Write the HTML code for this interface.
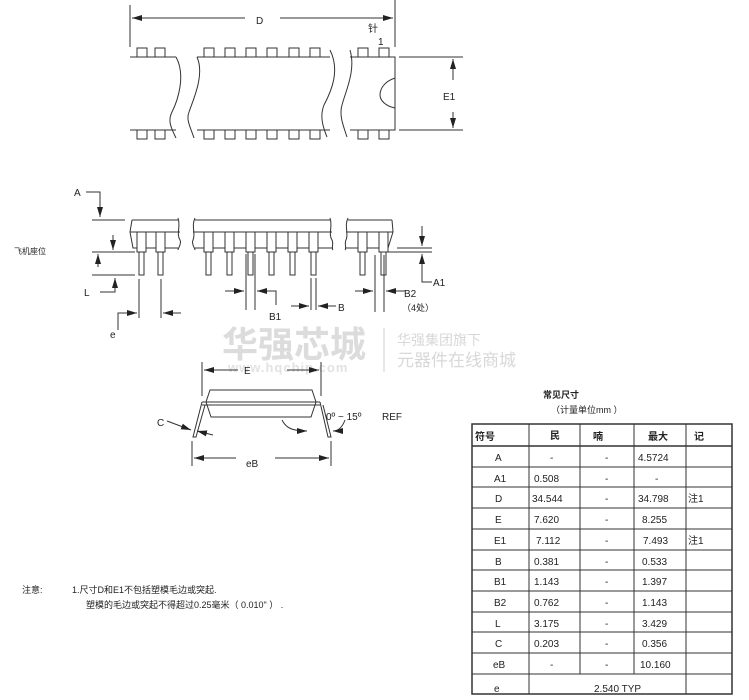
<!DOCTYPE html>
<html><head><meta charset="utf-8"><style>
html,body{margin:0;padding:0;background:#fff;}
svg{display:block;font-family:"Liberation Sans","Noto Sans CJK SC",sans-serif;}
text{font-size:10px;fill:#222;}
</style></head><body>
<svg width="749" height="700" viewBox="0 0 749 700" xmlns="http://www.w3.org/2000/svg">
<defs>
<marker id="ar" viewBox="0 0 10 6" refX="10" refY="3" markerWidth="10" markerHeight="6" orient="auto" markerUnits="userSpaceOnUse"><path d="M0,0L10,3L0,6z" fill="#222"/></marker>
</defs>
<!-- watermark -->
<g fill="#d8d8d8">
<text x="222" y="357" style="font-size:36px;font-weight:bold;fill:#dcdcdc">华强芯城</text>
<text x="228" y="372" style="font-size:13px;font-weight:bold;fill:#e2e2e2;letter-spacing:1px">www.hqchip.com</text>
<text x="397" y="345" style="font-size:14px;fill:#d8d8d8">华强集团旗下</text>
<text x="397" y="366" style="font-size:17px;fill:#d8d8d8">元器件在线商城</text>
</g>
<line x1="384" y1="328" x2="384" y2="372" stroke="#e0e0e0" stroke-width="1.5"/>

<g stroke="#333" stroke-width="1" fill="none">
<!-- TOP VIEW -->
<line x1="130" y1="5" x2="130" y2="47"/>
<line x1="395" y1="0" x2="395" y2="47"/>
<line x1="132" y1="18" x2="245" y2="18" marker-start="url(#ar)" style="marker-start:none"/>
<path d="M132,18 h110" />
<path d="M280,18 h113" marker-end="url(#ar)"/>
<path d="M242,18 H132" marker-end="url(#ar)"/>
<!-- body -->
<path d="M130,57 H176 M197,57 H330 M350,57 H395 V130 H350 M330,130 H197 M176,130 H130 Z"/>
<path d="M176,57 C186,75 178,100 172,112 C168,120 170,126 176,138"/>
<path d="M197,57 C205,75 193,100 189,112 C186,120 190,126 194,138"/>
<path d="M330,50 C340,70 332,90 324,105 C320,115 322,125 327,137"/>
<path d="M350,50 C356,70 346,90 342,105 C339,115 343,125 347,137"/>
<path d="M395,78 C383,82 380,90 380,95 C380,100 385,106 395,108"/>
<line x1="399" y1="57" x2="463" y2="57"/>
<line x1="399" y1="130" x2="463" y2="130"/>
<path d="M453,80 V59" marker-end="url(#ar)"/>
<path d="M453,112 V128" marker-end="url(#ar)"/>
</g>
<g stroke="#333" stroke-width="1" fill="#fff">
<rect x="137" y="48" width="10" height="9"/><rect x="155" y="48" width="10" height="9"/>
<rect x="204" y="48" width="10" height="9"/><rect x="225" y="48" width="10" height="9"/><rect x="246" y="48" width="10" height="9"/><rect x="267" y="48" width="10" height="9"/><rect x="289" y="48" width="10" height="9"/><rect x="310" y="48" width="10" height="9"/>
<rect x="358" y="48" width="10" height="9"/><rect x="379" y="48" width="10" height="9"/>
<rect x="137" y="130" width="10" height="9"/><rect x="155" y="130" width="10" height="9"/>
<rect x="204" y="130" width="10" height="9"/><rect x="225" y="130" width="10" height="9"/><rect x="246" y="130" width="10" height="9"/><rect x="267" y="130" width="10" height="9"/><rect x="289" y="130" width="10" height="9"/><rect x="310" y="130" width="10" height="9"/>
<rect x="358" y="130" width="10" height="9"/><rect x="379" y="130" width="10" height="9"/>
</g>
<text x="256" y="24">D</text>
<text x="368" y="32">针</text>
<text x="378" y="45">1</text>
<text x="443" y="100">E1</text>

<!-- SIDE VIEW -->
<g stroke="#333" stroke-width="1" fill="none">
<path d="M132,220 H178 M195,220 H330 M348,220 H392"/>
<path d="M130,232 H180 M193,232 H332 M346,232 H393"/>
<path d="M132,220 L130,232 L133,248 H178 M195,248 H333 M345,248 H388 L393,232 L392,220"/>
<path d="M178,218 C181,226 176,234 180,240 C182,244 178,248 178,250"/>
<path d="M195,218 C191,226 196,234 193,240 C191,244 195,248 195,250"/>
<path d="M330,218 C333,226 328,234 332,240 C334,244 331,248 333,250"/>
<path d="M348,218 C344,226 349,234 346,240 C344,244 347,248 345,250"/>
</g>
<g stroke="#333" stroke-width="1" fill="#fff">
<!-- pins: wide 232-252, narrow 252-275 -->
<g id="p"><rect x="137" y="232" width="9" height="20"/><rect x="139" y="252" width="5" height="23"/></g>
<use href="#p" x="19"/>
<use href="#p" x="67"/><use href="#p" x="88"/><use href="#p" x="109"/><use href="#p" x="130"/><use href="#p" x="151"/><use href="#p" x="172"/>
<use href="#p" x="221"/><use href="#p" x="242"/>
</g>
<g stroke="#333" stroke-width="1" fill="none">
<!-- A -->
<path d="M86,192 H100 V217" marker-end="url(#ar)"/>
<line x1="92" y1="220" x2="125" y2="220"/>
<!-- pin shoulder / L -->
<line x1="92" y1="252" x2="135" y2="252"/>
<line x1="92" y1="275" x2="135" y2="275"/>
<path d="M113,235 V250" marker-end="url(#ar)"/>
<path d="M98,267 V254" marker-end="url(#ar)"/>
<path d="M100,292 H115 V278" marker-end="url(#ar)"/>
<!-- e -->
<line x1="139" y1="279" x2="139" y2="318"/>
<line x1="161" y1="279" x2="161" y2="318"/>
<path d="M118,330 V313 H137" marker-end="url(#ar)"/>
<path d="M181,313 H163" marker-end="url(#ar)"/>
<!-- B1 -->
<line x1="246" y1="254" x2="246" y2="310"/>
<line x1="255" y1="254" x2="255" y2="310"/>
<path d="M225,291 H244" marker-end="url(#ar)"/>
<path d="M276,305 V291 H257" marker-end="url(#ar)"/>
<!-- B -->
<line x1="311" y1="278" x2="311" y2="310"/>
<line x1="316" y1="278" x2="316" y2="310"/>
<path d="M291,306 H309" marker-end="url(#ar)"/>
<path d="M336,306 H318" marker-end="url(#ar)"/>
<!-- B2 -->
<line x1="375" y1="255" x2="375" y2="312"/>
<line x1="384" y1="255" x2="384" y2="312"/>
<path d="M355,291 H373" marker-end="url(#ar)"/>
<path d="M405,291 H386" marker-end="url(#ar)"/>
<!-- A1 -->
<line x1="397" y1="248" x2="432" y2="248"/>
<line x1="386" y1="252" x2="432" y2="252"/>
<path d="M422,226 V246" marker-end="url(#ar)"/>
<path d="M432,282 H422 V254" marker-end="url(#ar)"/>
</g>
<text x="74" y="196">A</text>
<text x="14" y="254" style="font-size:8px">飞机座位</text>
<text x="84" y="296">L</text>
<text x="110" y="338">e</text>
<text x="269" y="320">B1</text>
<text x="338" y="311">B</text>
<text x="404" y="297">B2</text>
<text x="402" y="311" style="font-size:9px">（4处）</text>
<text x="433" y="286">A1</text>

<!-- END VIEW -->
<g stroke="#333" stroke-width="1" fill="none">
<line x1="202" y1="362" x2="202" y2="396"/>
<line x1="321" y1="362" x2="321" y2="396"/>
<path d="M238,370 H204" marker-end="url(#ar)"/>
<path d="M287,370 H319" marker-end="url(#ar)"/>
<path d="M210,390 H312 L316,402 L311,417 H211 L206,402 Z"/>
<line x1="202" y1="402" x2="320" y2="402"/>
<line x1="202" y1="405" x2="320" y2="405"/>
<path d="M202,402 L193,437 L196,437 L205,405"/>
<path d="M320,402 L328,437 L331,437 L323,405"/>
<line x1="192" y1="441" x2="192" y2="466"/>
<line x1="331" y1="441" x2="331" y2="466"/>
<path d="M236,458 H194" marker-end="url(#ar)"/>
<path d="M275,458 H329" marker-end="url(#ar)"/>
<path d="M167,421 L191,430" marker-end="url(#ar)"/>
<path d="M213,435 L197,431" marker-end="url(#ar)"/>
<path d="M282,420 C286,428 292,431 307,431" marker-end="url(#ar)"/>
<path d="M345,420 C342,428 338,431 333,431" marker-end="url(#ar)"/>
</g>
<text x="244" y="374">E</text>
<text x="157" y="426">C</text>
<text x="246" y="467">eB</text>
<text x="326" y="420">0º ~ 15º</text>
<text x="382" y="420">REF</text>

<!-- notes -->
<text x="22" y="593" style="font-size:9px">注意:</text>
<text x="72" y="593" style="font-size:9px">1.尺寸D和E1不包括塑模毛边或突起.</text>
<text x="86" y="608" style="font-size:9px">塑模的毛边或突起不得超过0.25毫米（ 0.010" ）  .</text>

<!-- TABLE -->
<text x="543" y="398" style="font-size:9px;font-weight:bold">常见尺寸</text>
<text x="551" y="413" style="font-size:9px">（计量单位mm ）</text>
<g stroke="#333" stroke-width="1" fill="none">
<rect x="472" y="424" width="260" height="270" stroke-width="1.5"/>
<line x1="472" y1="446" x2="732" y2="446" stroke-width="1.5"/>
<line x1="529" y1="424" x2="529" y2="694"/>
<line x1="580" y1="424" x2="580" y2="674"/>
<line x1="634" y1="424" x2="634" y2="674"/>
<line x1="686" y1="424" x2="686" y2="694"/>
<path d="M472,467H732 M472,487H732 M472,508H732 M472,529H732 M472,550H732 M472,570H732 M472,591H732 M472,612H732 M472,632H732 M472,653H732 M472,674H732"/>
</g>
<g style="font-size:10px">
<text x="475" y="440" style="font-weight:bold">符号</text>
<text x="550" y="439" style="font-weight:bold">民</text>
<text x="593" y="440" style="font-weight:bold">喃</text>
<text x="648" y="440" style="font-weight:bold">最大</text>
<text x="694" y="440" style="font-weight:bold">记</text>
</g>
<g style="font-size:10px">
<text x="495" y="461">A</text><text x="550" y="461">-</text><text x="605" y="461">-</text><text x="638" y="461">4.5724</text>
<text x="494" y="482">A1</text><text x="534" y="482">0.508</text><text x="605" y="482">-</text><text x="655" y="482">-</text>
<text x="495" y="502">D</text><text x="532" y="502">34.544</text><text x="605" y="502">-</text><text x="638" y="502">34.798</text><text x="688" y="502">注1</text>
<text x="495" y="523">E</text><text x="534" y="523">7.620</text><text x="605" y="523">-</text><text x="642" y="523">8.255</text>
<text x="494" y="544">E1</text><text x="536" y="544">7.112</text><text x="605" y="544">-</text><text x="643" y="544">7.493</text><text x="688" y="544">注1</text>
<text x="495" y="565">B</text><text x="534" y="565">0.381</text><text x="605" y="565">-</text><text x="642" y="565">0.533</text>
<text x="494" y="585">B1</text><text x="534" y="585">1.143</text><text x="605" y="585">-</text><text x="642" y="585">1.397</text>
<text x="494" y="606">B2</text><text x="534" y="606">0.762</text><text x="605" y="606">-</text><text x="642" y="606">1.143</text>
<text x="495" y="627">L</text><text x="534" y="627">3.175</text><text x="605" y="627">-</text><text x="642" y="627">3.429</text>
<text x="495" y="647">C</text><text x="534" y="647">0.203</text><text x="605" y="647">-</text><text x="642" y="647">0.356</text>
<text x="493" y="668">eB</text><text x="550" y="668">-</text><text x="605" y="668">-</text><text x="640" y="668">10.160</text>
<text x="494" y="692">e</text><text x="594" y="692">2.540 TYP</text>
</g>
</svg>
</body></html>
